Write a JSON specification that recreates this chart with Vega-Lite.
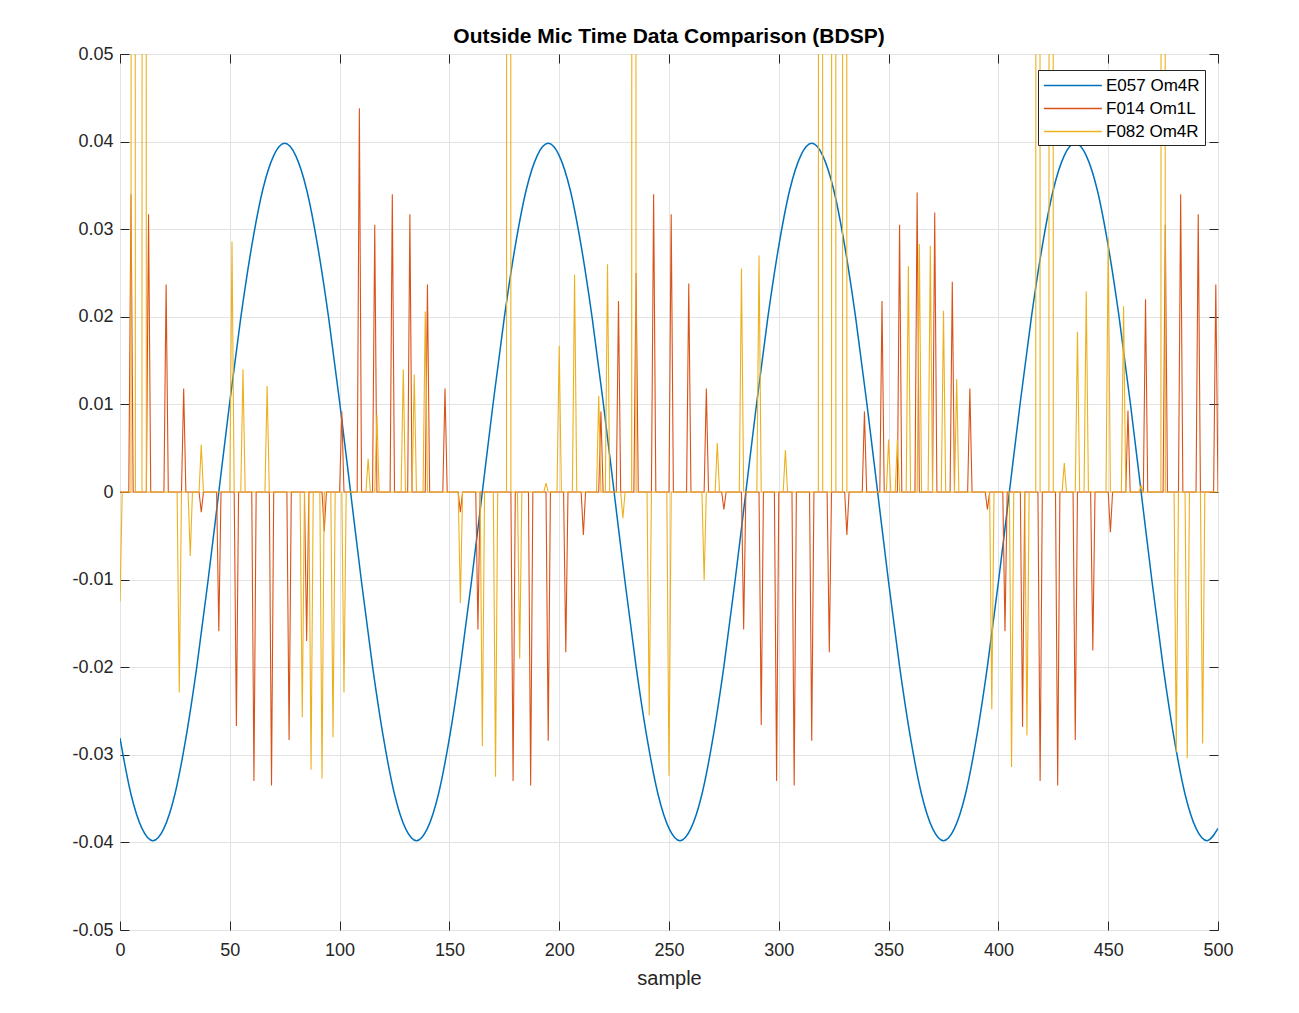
{
"$schema":"https://vega.github.io/schema/vega-lite/v6.json",
"width":1098,"height":876,"autosize":"none",
"padding":{"left":120,"top":54,"right":81,"bottom":83},
"background":"white",
"title":{"text":"Outside Mic Time Data Comparison (BDSP)","fontSize":21,"fontWeight":"bold","font":"Liberation Sans","color":"black","offset":-2},
"config":{
 "view":{"stroke":"#262626","strokeWidth":1},
 "axis":{"labelFont":"Liberation Sans","labelFontSize":18,"labelColor":"#262626","tickColor":"#262626","gridColor":"#e3e3e3","domain":false,"labelFlush":false,"titleFont":"Liberation Sans","titleFontSize":20,"titleFontWeight":"normal","titleColor":"#262626"},
 "legend":{"orient":"none","legendX":918,"legendY":16,"fillColor":"white","strokeColor":"#262626","padding":5,"symbolType":"M-1,0H5","symbolSize":374,"symbolStrokeWidth":1.4,"labelFontSize":17,"labelFont":"Liberation Sans","labelColor":"black","rowPadding":4,"labelOffset":42}
},
"datasets":{
"blue":[{"x":0,"y":-0.0281},{"x":5,"y":-0.0345},{"x":10,"y":-0.0384},{"x":15,"y":-0.0398},{"x":20,"y":-0.0384},{"x":25,"y":-0.0345},{"x":30,"y":-0.0281},{"x":35,"y":-0.0199},{"x":40,"y":-0.0103},{"x":45,"y":0},{"x":50,"y":0.0103},{"x":55,"y":0.0199},{"x":60,"y":0.0281},{"x":65,"y":0.0345},{"x":70,"y":0.0384},{"x":75,"y":0.0398},{"x":80,"y":0.0384},{"x":85,"y":0.0345},{"x":90,"y":0.0281},{"x":95,"y":0.0199},{"x":100,"y":0.0103},{"x":105,"y":0},{"x":110,"y":-0.0103},{"x":115,"y":-0.0199},
{"x":120,"y":-0.0281},{"x":125,"y":-0.0345},{"x":130,"y":-0.0384},{"x":135,"y":-0.0398},{"x":140,"y":-0.0384},{"x":145,"y":-0.0345},{"x":150,"y":-0.0281},{"x":155,"y":-0.0199},{"x":160,"y":-0.0103},{"x":165,"y":0},{"x":170,"y":0.0103},{"x":175,"y":0.0199},{"x":180,"y":0.0281},{"x":185,"y":0.0345},{"x":190,"y":0.0384},{"x":195,"y":0.0398},{"x":200,"y":0.0384},{"x":205,"y":0.0345},{"x":210,"y":0.0281},{"x":215,"y":0.0199},{"x":220,"y":0.0103},{"x":225,"y":0},{"x":230,"y":-0.0103},{"x":235,"y":-0.0199},
{"x":240,"y":-0.0281},{"x":245,"y":-0.0345},{"x":250,"y":-0.0384},{"x":255,"y":-0.0398},{"x":260,"y":-0.0384},{"x":265,"y":-0.0345},{"x":270,"y":-0.0281},{"x":275,"y":-0.0199},{"x":280,"y":-0.0103},{"x":285,"y":0},{"x":290,"y":0.0103},{"x":295,"y":0.0199},{"x":300,"y":0.0281},{"x":305,"y":0.0345},{"x":310,"y":0.0384},{"x":315,"y":0.0398},{"x":320,"y":0.0384},{"x":325,"y":0.0345},{"x":330,"y":0.0281},{"x":335,"y":0.0199},{"x":340,"y":0.0103},{"x":345,"y":0},{"x":350,"y":-0.0103},{"x":355,"y":-0.0199},
{"x":360,"y":-0.0281},{"x":365,"y":-0.0345},{"x":370,"y":-0.0384},{"x":375,"y":-0.0398},{"x":380,"y":-0.0384},{"x":385,"y":-0.0345},{"x":390,"y":-0.0281},{"x":395,"y":-0.0199},{"x":400,"y":-0.0103},{"x":405,"y":0},{"x":410,"y":0.0103},{"x":415,"y":0.0199},{"x":420,"y":0.0281},{"x":425,"y":0.0345},{"x":430,"y":0.0384},{"x":435,"y":0.0398},{"x":440,"y":0.0384},{"x":445,"y":0.0345},{"x":450,"y":0.0281},{"x":455,"y":0.0199},{"x":460,"y":0.0103},{"x":465,"y":0},{"x":470,"y":-0.0103},{"x":475,"y":-0.0199},
{"x":480,"y":-0.0281},{"x":485,"y":-0.0345},{"x":490,"y":-0.0384},{"x":495,"y":-0.0398},{"x":500,"y":-0.0384}],
"red":[{"x":0,"y":0},{"x":4,"y":0},{"x":5,"y":0.034},{"x":6,"y":0},{"x":12,"y":0},{"x":13,"y":0.0317},{"x":14,"y":0},{"x":20,"y":0},{"x":21,"y":0.0237},{"x":22,"y":0},{"x":28,"y":0},{"x":29,"y":0.0118},{"x":30,"y":0},{"x":36,"y":0},{"x":37,"y":-0.0023},{"x":38,"y":0},{"x":44,"y":0},{"x":45,"y":-0.0159},{"x":46,"y":0},{"x":52,"y":0},{"x":53,"y":-0.0267},{"x":54,"y":0},{"x":60,"y":0},{"x":61,"y":-0.033},{"x":62,"y":0},{"x":68,"y":0},{"x":69,"y":-0.0335},{"x":70,"y":0},{"x":76,"y":0},{"x":77,"y":-0.0283},{"x":78,"y":0},{"x":84,"y":0},{"x":85,"y":-0.017},{"x":86,"y":0},{"x":92,"y":0},{"x":93,"y":-0.0045},{"x":94,"y":0},{"x":100,"y":0},{"x":101,"y":0.0092},{"x":102,"y":0},{"x":108,"y":0},{"x":109,"y":0.0438},{"x":110,"y":0},{"x":115,"y":0},{"x":116,"y":0.0305},{"x":117,"y":0},{"x":123,"y":0},{"x":124,"y":0.034},{"x":125,"y":0},{"x":131,"y":0},{"x":132,"y":0.0317},{"x":133,"y":0},{"x":139,"y":0},{"x":140,"y":0.0237},{"x":141,"y":0},{"x":147,"y":0},{"x":148,"y":0.0118},{"x":149,"y":0},{"x":154,"y":0},{"x":155,"y":-0.0023},{"x":156,"y":0},{"x":162,"y":0},{"x":163,"y":-0.0157},{"x":164,"y":0},{"x":178,"y":0},{"x":179,"y":-0.033},{"x":180,"y":0},{"x":186,"y":0},{"x":187,"y":-0.0335},{"x":188,"y":0},{"x":194,"y":0},{"x":195,"y":-0.0284},{"x":196,"y":0},{"x":202,"y":0},{"x":203,"y":-0.0183},{"x":204,"y":0},{"x":210,"y":0},{"x":211,"y":-0.0049},{"x":212,"y":0},{"x":218,"y":0},{"x":219,"y":0.0092},{"x":220,"y":0},{"x":226,"y":0},{"x":227,"y":0.0218},{"x":228,"y":0},{"x":234,"y":0},{"x":235,"y":0.025},{"x":236,"y":0},{"x":242,"y":0},{"x":243,"y":0.034},{"x":244,"y":0},{"x":250,"y":0},{"x":251,"y":0.0317},{"x":252,"y":0},{"x":258,"y":0},{"x":259,"y":0.0238},{"x":260,"y":0},{"x":266,"y":0},{"x":267,"y":0.0118},{"x":268,"y":0},{"x":274,"y":0},{"x":275,"y":-0.002},{"x":276,"y":0},{"x":283,"y":0},{"x":284,"y":-0.0157},{"x":285,"y":0},{"x":291,"y":0},{"x":292,"y":-0.0266},{"x":293,"y":0},{"x":298,"y":0},{"x":299,"y":-0.033},{"x":300,"y":0},{"x":306,"y":0},{"x":307,"y":-0.0335},{"x":308,"y":0},{"x":314,"y":0},{"x":315,"y":-0.0284},{"x":316,"y":0},{"x":322,"y":0},{"x":323,"y":-0.0183},{"x":324,"y":0},{"x":330,"y":0},{"x":331,"y":-0.0049},{"x":332,"y":0},{"x":338,"y":0},{"x":339,"y":0.0092},{"x":340,"y":0},{"x":346,"y":0},{"x":347,"y":0.0218},{"x":348,"y":0},{"x":354,"y":0},{"x":355,"y":0.0305},{"x":356,"y":0},{"x":362,"y":0},{"x":363,"y":0.0342},{"x":364,"y":0},{"x":370,"y":0},{"x":371,"y":0.0319},{"x":372,"y":0},{"x":378,"y":0},{"x":379,"y":0.024},{"x":380,"y":0},{"x":386,"y":0},{"x":387,"y":0.0118},{"x":388,"y":0},{"x":394,"y":0},{"x":395,"y":-0.002},{"x":396,"y":0},{"x":402,"y":0},{"x":403,"y":-0.0159},{"x":404,"y":0},{"x":410,"y":0},{"x":411,"y":-0.0268},{"x":412,"y":0},{"x":418,"y":0},{"x":419,"y":-0.033},{"x":420,"y":0},{"x":426,"y":0},{"x":427,"y":-0.0335},{"x":428,"y":0},{"x":434,"y":0},{"x":435,"y":-0.0283},{"x":436,"y":0},{"x":442,"y":0},{"x":443,"y":-0.0181},{"x":444,"y":0},{"x":450,"y":0},{"x":451,"y":-0.0046},{"x":452,"y":0},{"x":458,"y":0},{"x":459,"y":0.0093},{"x":460,"y":0},{"x":466,"y":0},{"x":467,"y":0.022},{"x":468,"y":0},{"x":475,"y":0},{"x":476,"y":0.0305},{"x":477,"y":0},{"x":482,"y":0},{"x":483,"y":0.034},{"x":484,"y":0},{"x":490,"y":0},{"x":491,"y":0.0317},{"x":492,"y":0},{"x":498,"y":0},{"x":499,"y":0.0237},{"x":500,"y":0}],
"yellow":[{"x":0,"y":-0.0125},{"x":1,"y":0},{"x":5,"y":0},{"x":6,"y":1},{"x":7,"y":0},{"x":10,"y":0},{"x":11,"y":1},{"x":12,"y":0},{"x":26,"y":0},{"x":27,"y":-0.0229},{"x":28,"y":0},{"x":31,"y":0},{"x":32,"y":-0.0073},{"x":33,"y":0},{"x":36,"y":0},{"x":37,"y":0.0054},{"x":38,"y":0},{"x":50,"y":0},{"x":51,"y":0.0286},{"x":52,"y":0},{"x":55,"y":0},{"x":56,"y":0.014},{"x":57,"y":0},{"x":66,"y":0},{"x":67,"y":0.0121},{"x":68,"y":0},{"x":82,"y":0},{"x":83,"y":-0.0257},{"x":84,"y":0},{"x":86,"y":0},{"x":87,"y":-0.0317},{"x":88,"y":0},{"x":91,"y":0},{"x":92,"y":-0.0327},{"x":93,"y":0},{"x":96,"y":0},{"x":97,"y":-0.028},{"x":98,"y":0},{"x":101,"y":0},{"x":102,"y":-0.0229},{"x":103,"y":0},{"x":112,"y":0},{"x":113,"y":0.0038},{"x":114,"y":0},{"x":116,"y":0},{"x":117,"y":0.0088},{"x":118,"y":0},{"x":128,"y":0},{"x":129,"y":0.014},{"x":130,"y":0},{"x":133,"y":0},{"x":134,"y":0.0134},{"x":135,"y":0},{"x":138,"y":0},{"x":139,"y":0.0206},{"x":140,"y":0},{"x":154,"y":0},{"x":155,"y":-0.0127},{"x":156,"y":0},{"x":164,"y":0},{"x":165,"y":-0.029},{"x":166,"y":0},{"x":170,"y":0},{"x":171,"y":-0.0325},{"x":172,"y":0},{"x":176,"y":0},{"x":177,"y":1},{"x":178,"y":0},{"x":181,"y":0},{"x":182,"y":-0.019},{"x":183,"y":0},{"x":193,"y":0},{"x":194,"y":0.001},{"x":195,"y":0},{"x":199,"y":0},{"x":200,"y":0.0167},{"x":201,"y":0},{"x":206,"y":0},{"x":207,"y":0.0248},{"x":208,"y":0},{"x":217,"y":0},{"x":218,"y":0.011},{"x":219,"y":0},{"x":221,"y":0},{"x":222,"y":0.026},{"x":223,"y":0},{"x":228,"y":0},{"x":229,"y":-0.003},{"x":230,"y":0},{"x":233,"y":0},{"x":234,"y":1},{"x":235,"y":0},{"x":240,"y":0},{"x":241,"y":-0.0255},{"x":242,"y":0},{"x":249,"y":0},{"x":250,"y":-0.0324},{"x":251,"y":0},{"x":265,"y":0},{"x":266,"y":-0.0101},{"x":267,"y":0},{"x":271,"y":0},{"x":272,"y":0.0056},{"x":273,"y":0},{"x":282,"y":0},{"x":283,"y":0.0255},{"x":284,"y":0},{"x":290,"y":0},{"x":291,"y":0.027},{"x":292,"y":0},{"x":302,"y":0},{"x":303,"y":0.0048},{"x":304,"y":0},{"x":318,"y":0},{"x":319,"y":1},{"x":320,"y":0},{"x":324,"y":0},{"x":325,"y":1},{"x":326,"y":0},{"x":329,"y":0},{"x":330,"y":1},{"x":331,"y":0},{"x":349,"y":0},{"x":350,"y":0.006},{"x":351,"y":0},{"x":353,"y":0},{"x":354,"y":0.006},{"x":355,"y":0},{"x":358,"y":0},{"x":359,"y":0.0258},{"x":360,"y":0},{"x":363,"y":0},{"x":364,"y":0.0283},{"x":365,"y":0},{"x":368,"y":0},{"x":369,"y":0.0281},{"x":370,"y":0},{"x":374,"y":0},{"x":375,"y":0.0207},{"x":376,"y":0},{"x":380,"y":0},{"x":381,"y":0.0129},{"x":382,"y":0},{"x":396,"y":0},{"x":397,"y":-0.0248},{"x":398,"y":0},{"x":405,"y":0},{"x":406,"y":-0.0314},{"x":407,"y":0},{"x":412,"y":0},{"x":413,"y":-0.0278},{"x":414,"y":0},{"x":417,"y":0},{"x":418,"y":1},{"x":419,"y":0},{"x":423,"y":0},{"x":424,"y":1},{"x":425,"y":0},{"x":429,"y":0},{"x":430,"y":0.0033},{"x":431,"y":0},{"x":435,"y":0},{"x":436,"y":0.0183},{"x":437,"y":0},{"x":439,"y":0},{"x":440,"y":0.0229},{"x":441,"y":0},{"x":449,"y":0},{"x":450,"y":0.029},{"x":451,"y":0},{"x":456,"y":0},{"x":457,"y":0.0212},{"x":458,"y":0},{"x":464,"y":0},{"x":465,"y":0.0007},{"x":466,"y":0},{"x":474,"y":0},{"x":475,"y":1},{"x":476,"y":0},{"x":480,"y":0},{"x":481,"y":-0.0297},{"x":482,"y":0},{"x":485,"y":0},{"x":486,"y":-0.0304},{"x":487,"y":0},{"x":492,"y":0},{"x":493,"y":-0.0287},{"x":494,"y":0},{"x":500,"y":0}]
},
"layer":[
{"data":{"name":"blue"},"mark":{"type":"line","clip":true,"strokeWidth":1.5,"interpolate":"monotone"},
 "encoding":{
  "x":{"field":"x","type":"quantitative","scale":{"domain":[0,500],"nice":false,"zero":false},"axis":{"orient":"top","labels":false,"grid":false,"title":null,"values":[0,50,100,150,200,250,300,350,400,450,500],"tickSize":-9}},
  "y":{"field":"y","type":"quantitative","scale":{"domain":[-0.05,0.05],"nice":false,"zero":false},"axis":{"orient":"right","labels":false,"grid":false,"title":null,"values":[-0.05,-0.04,-0.03,-0.02,-0.01,0,0.01,0.02,0.03,0.04,0.05],"tickSize":-9}},
  "color":{"datum":"E057 Om4R","type":"nominal","scale":{"domain":["E057 Om4R","F014 Om1L","F082 Om4R"],"range":["#0072BD","#D95319","#EDB120"]},"legend":{"title":null,"labelExpr":"datum.label + '\u00a0\u00a0\u00a0\u00a0'"}}}},
{"data":{"name":"red"},"mark":{"type":"line","clip":true,"strokeWidth":1.1},
 "encoding":{
  "x":{"field":"x","type":"quantitative","axis":{"orient":"bottom","grid":true,"title":"sample","values":[0,50,100,150,200,250,300,350,400,450,500],"tickSize":-9,"labelPadding":20,"titlePadding":9}},
  "y":{"field":"y","type":"quantitative","axis":{"orient":"left","grid":true,"title":null,"values":[-0.05,-0.04,-0.03,-0.02,-0.01,0,0.01,0.02,0.03,0.04,0.05],"tickSize":-9,"labelPadding":16,"labelExpr":"replace(format(datum.value, '~g'), '\u2212', '-')"}},
  "color":{"datum":"F014 Om1L","type":"nominal"}}},
{"data":{"name":"yellow"},"mark":{"type":"line","clip":true,"strokeWidth":1.1},
 "encoding":{
  "x":{"field":"x","type":"quantitative","axis":null},
  "y":{"field":"y","type":"quantitative","axis":null},
  "color":{"datum":"F082 Om4R","type":"nominal"}}}
],
"resolve":{"axis":{"x":"independent","y":"independent"}}
}
